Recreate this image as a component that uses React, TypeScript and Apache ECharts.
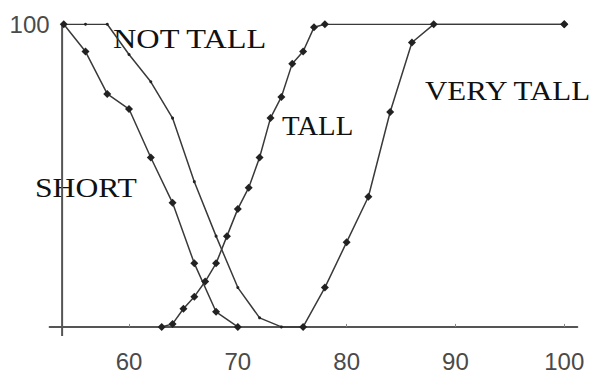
import React, { useEffect, useRef } from "react";
import * as echarts from "echarts";

const xTickValues = [60, 70, 80, 90, 100];
const yTickValues = [100];

const shortData: [number, number][] = [
  [54, 100], [56, 91], [58, 77], [60, 72], [62, 56], [64, 41], [66, 21], [68, 5], [70, 0],
];
const notTallData: [number, number][] = [
  [54, 100], [56, 100], [58, 100], [60, 90], [62, 81], [64, 69], [66, 48], [68, 30],
  [70, 13], [72, 3], [74, 0], [76, 0],
];
const tallData: [number, number][] = [
  [63, 0], [64, 1], [65, 6], [66, 10], [67, 15], [68, 21], [69, 30], [70, 39], [71, 46],
  [72, 56], [73, 69], [74, 76], [75, 87], [76, 91], [77, 99], [78, 100], [100, 100],
];
const veryTallData: [number, number][] = [
  [76, 0], [78, 13], [80, 28], [82, 43], [84, 71], [86, 94], [88, 100], [100, 100],
];
const yAxisLineData: [number, number][] = [[53.85, -3], [53.85, 100]];

const curveLabels = ["NOT TALL", "TALL", "VERY TALL", "SHORT"];

export default function App() {
  const ref = useRef<HTMLDivElement>(null);
  useEffect(() => {
    if (!ref.current) return;
    const chart = echarts.init(ref.current, undefined, { renderer: "svg" });
    const lineColor = "#3a3a3a";
    const lineSeries = (name: string, data: [number, number][], symbol: string, size: number) => ({
      name,
      type: "line",
      data,
      symbol,
      symbolSize: size,
      showSymbol: true,
      lineStyle: { color: lineColor, width: 1.5 },
      itemStyle: { color: "#222" },
      silent: true,
    });
    const labelLayout = [
      { x: 113, y: 39.2, sx: 1.155 },
      { x: 282, y: 125.2, sx: 1.03 },
      { x: 425, y: 90.2, sx: 1.105 },
      { x: 35, y: 187.2, sx: 1.13 },
    ];
    chart.setOption({
      animation: false,
      backgroundColor: "#ffffff",
      grid: { left: 49.6, right: 14.7, top: 24.3, bottom: 29.4, containLabel: false },
      xAxis: {
        type: "value",
        min: 52.7,
        max: 101.2,
        axisLine: { onZero: true, lineStyle: { color: "#555", width: 2 } },
        axisTick: { show: true, inside: true, length: 3, customValues: xTickValues, lineStyle: { color: "#888" } },
        axisLabel: {
          customValues: xTickValues,
          fontFamily: "Liberation Sans",
          fontSize: 24,
          color: "#4a4a4a",
          margin: 13,
        },
        splitLine: { show: false },
      },
      yAxis: {
        type: "value",
        min: -3,
        max: 100,
        axisLine: { show: false },
        axisTick: { show: false },
        axisLabel: {
          customValues: yTickValues,
          fontFamily: "Liberation Sans",
          fontSize: 24,
          color: "#4a4a4a",
          margin: 0,
          padding: [0, 0, 5, 0],
        },
        splitLine: { show: false },
      },
      series: [
        {
          name: "yAxisLine",
          type: "line",
          data: yAxisLineData,
          symbol: "none",
          lineStyle: { color: "#555", width: 2 },
          silent: true,
        },
        lineSeries("SHORT", shortData, "diamond", 8),
        lineSeries("NOT TALL", notTallData, "circle", 3),
        lineSeries("TALL", tallData, "diamond", 8),
        lineSeries("VERY TALL", veryTallData, "diamond", 8),
      ],
      graphic: curveLabels.map((t, i) => ({
        type: "text",
        x: labelLayout[i].x,
        y: labelLayout[i].y,
        scaleX: labelLayout[i].sx,
        silent: true,
        style: {
          text: t,
          fontFamily: "Liberation Serif",
          fontSize: 28,
          fill: "#111",
          align: "left",
          verticalAlign: "middle",
        },
      })),
    });
    return () => chart.dispose();
  }, []);
  return (
    <div
      ref={ref}
      style={{ position: "fixed", left: 0, top: 0, width: 592, height: 373 }}
    />
  );
}
